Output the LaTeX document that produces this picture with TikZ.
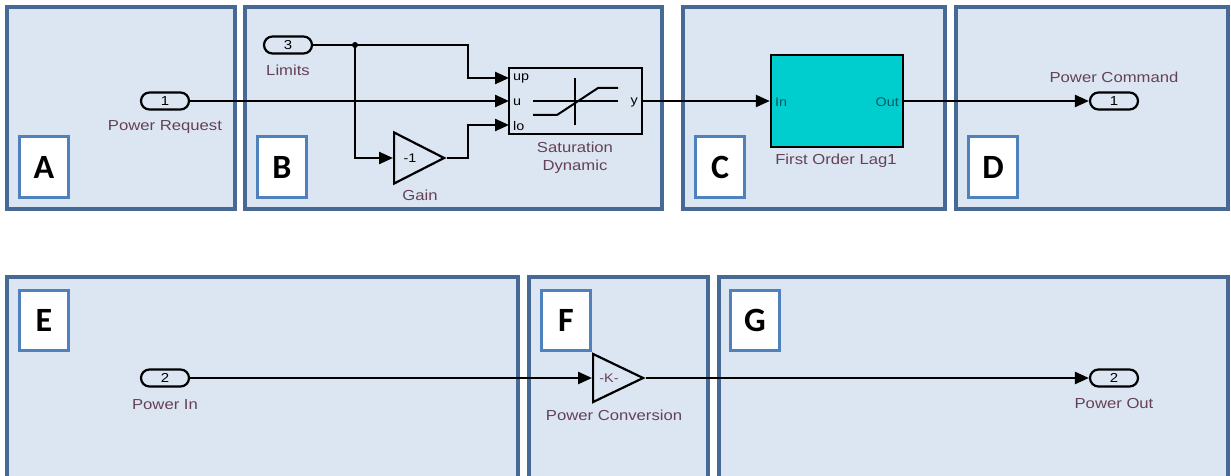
\documentclass[tikz,border=0pt]{standalone}
\usepackage{fontspec}
\usetikzlibrary{arrows.meta,shapes.geometric,shapes.misc}
\newfontfamily\simfont[FakeStretch=1.15]{Liberation Sans}
\newfontfamily\tagfont{Carlito}
\definecolor{panelfill}{RGB}{220,230,242}
\definecolor{paneledge}{RGB}{70,105,150}
\definecolor{tagedge}{RGB}{79,129,189}
\definecolor{lagfill}{RGB}{0,206,206}
\definecolor{lbltext}{RGB}{100,65,85}
\definecolor{porttext}{RGB}{0,90,100}

\tikzset{
    panel/.style={fill=panelfill, draw=paneledge, line width=3.5pt},
    tag/.style={draw=tagedge, fill=white, line width=3pt, minimum width=49pt,
        minimum height=60pt, inner sep=0pt, font=\tagfont\bfseries\fontsize{34}{34}\selectfont},
    inport/.style={rounded rectangle, draw=black, line width=2.2pt, minimum width=48pt,
        minimum height=17pt, inner sep=0pt, font=\simfont\fontsize{13}{13}\selectfont},
    lbl/.style={text=lbltext, inner sep=0pt, font=\simfont\fontsize{14.5}{18}\selectfont},
    portlbl/.style={inner sep=0pt, font=\simfont\fontsize{12.5}{12.5}\selectfont},
    gainblk/.style={isosceles triangle, isosceles triangle stretches, shape border rotate=0,
        draw=black, line width=2.2pt, inner sep=0pt, anchor=west},
    sig/.style={line width=2.4pt, -{Triangle[length=14pt,width=12pt]}},
}

\begin{document}
\begin{tikzpicture}[x=1pt, y=-1pt]
    \useasboundingbox (0,0) rectangle (1231,476);
    \clip (0,0) rectangle (1231,476);

    % panels
    \draw[panel] (7,7) rectangle (235,209);
    \draw[panel] (245,7) rectangle (662,209);
    \draw[panel] (683,7) rectangle (945,209);
    \draw[panel] (956,7) rectangle (1228,209);
    \draw[panel] (7,277) rectangle (518,490);
    \draw[panel] (529,277) rectangle (708,490);
    \draw[panel] (719,277) rectangle (1228,490);

    % letter tags
    \node[tag] (tagA) at (44,167) {A};
    \node[tag] (tagB) at (282,167) {B};
    \node[tag] (tagC) at (720,167) {C};
    \node[tag] (tagD) at (993,167) {D};
    \node[tag] (tagE) at (44,320) {E};
    \node[tag] (tagF) at (566,320) {F};
    \node[tag] (tagG) at (755,320) {G};

    % top row blocks
    \node[inport] (req) at (165,101) {1};
    \node[lbl] at (165,127) {Power Request};

    \node[inport] (lim) at (288,45) {3};
    \node[lbl] at (288,70) {Limits};

    \node[gainblk, minimum width=51pt, minimum height=50pt] (gain) at (393,158) {};
    \node[portlbl] at (410,158) {-1};
    \node[lbl] at (420,195) {Gain};

    \node[draw=black, line width=2.2pt, fill=panelfill, minimum width=133pt,
        minimum height=66pt] (sat) at (575.5,101) {};
    \node[portlbl, anchor=west] at (513,78) {up};
    \node[portlbl, anchor=west] at (513,102) {u};
    \node[portlbl, anchor=west] at (513,126) {lo};
    \node[portlbl, anchor=east] at (638,102) {y};
    \draw[line width=2pt] (533,101) -- (618,101);
    \draw[line width=2pt] (575,78) -- (575,125);
    \draw[line width=2pt] (533,115) -- (557,115) -- (598,88) -- (618,88);
    \node[lbl, align=center] at (575,158) {Saturation\\Dynamic};

    \node[draw=black, line width=2.4pt, fill=lagfill, minimum width=132pt,
        minimum height=92pt] (lag) at (837,101) {};
    \node[portlbl, text=porttext, anchor=west] at (775,102) {In};
    \node[portlbl, text=porttext, anchor=east] at (899,102) {Out};
    \node[lbl] at (836,161) {First Order Lag1};

    \node[inport] (cmd) at (1114,101) {1};
    \node[lbl] at (1114,77) {Power Command};

    % bottom row blocks
    \node[inport] (pin) at (165,378) {2};
    \node[lbl] at (165,405) {Power In};

    \node[gainblk, minimum width=48pt, minimum height=50pt] (conv) at (592,378) {};
    \node[portlbl, text=lbltext] at (609,378) {-K-};
    \node[lbl] at (614,415) {Power Conversion};

    \node[inport] (pout) at (1114,378) {2};
    \node[lbl] at (1114,404) {Power Out};

    % junction points and ports
    \coordinate (satup) at (509,78);
    \coordinate (satu) at (509,101);
    \coordinate (satlo) at (509,125);
    \coordinate (jup) at (468,78);
    \coordinate (jlo) at (468,125);
    \coordinate (br) at (355,45);

    % signals
    \draw[sig] (req.east) -- (satu);
    \draw[sig] (lim.east) -| (jup) -- (satup);
    \fill (br) circle (3pt);
    \draw[sig] (br) |- (gain.west);
    \draw[sig] (gain.east) -| (jlo) -- (satlo);
    \draw[sig] (sat.east) -- (lag.west);
    \draw[sig] (lag.east) -- (cmd.west);
    \draw[sig] (pin.east) -- (conv.west);
    \draw[sig] (conv.east) -- (pout.west);
\end{tikzpicture}
\end{document}
